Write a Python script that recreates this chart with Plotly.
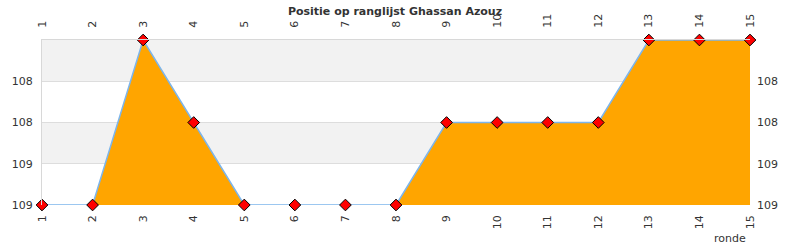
import plotly.graph_objects as go

rounds = list(range(1, 16))
positions = [109, 109, 107, 108, 109, 109, 109, 109, 108, 108, 108, 108, 107, 107, 107]
ytick_vals = [107, 107.5, 108, 108.5, 109]
ytick_text = ["", "108", "108", "109", "109"]
title = "Positie op ranglijst Ghassan Azouz"
baseline_value = 109

font = "DejaVu Sans"
fig = go.Figure()

# bands
bands = [(107, 107.5), (108, 108.5)]
for y0, y1 in bands:
    fig.add_shape(type="rect", xref="paper", yref="y", x0=0, x1=1, y0=y0, y1=y1,
                  fillcolor="#f2f2f2", line_width=0, layer="below")

fig.add_trace(go.Scatter(x=rounds, y=[baseline_value] * len(rounds), mode="lines",
                         line=dict(width=0, color="rgba(0,0,0,0)"), hoverinfo="skip",
                         showlegend=False))
fig.add_trace(go.Scatter(x=rounds, y=positions, mode="lines+markers", fill="tonexty",
                         fillcolor="#FFA500", cliponaxis=False,
                         line=dict(color="#7cb5ec", width=1.5),
                         marker=dict(symbol="diamond", size=9, color="#ff0000",
                                     line=dict(color="#000000", width=1)),
                         showlegend=False))
fig.add_trace(go.Scatter(x=rounds, y=positions, xaxis="x2", yaxis="y2", mode="markers",
                         marker=dict(opacity=0), hoverinfo="skip", showlegend=False))

axis_font = dict(family=font, size=11, color="#333333")
fig.update_layout(
    width=790, height=250,
    margin=dict(l=40, r=40, t=40, b=45),
    paper_bgcolor="white", plot_bgcolor="white",
    title=dict(text="<b>" + title + "</b>", x=0.5, xanchor="center", y=0.97, yanchor="top",
               font=dict(family=font, size=11, color="#333333")),
    xaxis=dict(range=[1, 15], tickvals=rounds, tickangle=-90, tickfont=axis_font,
               showgrid=False, zeroline=False, showline=False, ticks="",
               ticklabelstandoff=7),
    xaxis2=dict(range=[1, 15], tickvals=rounds, tickangle=-90, tickfont=axis_font,
                overlaying="x", side="top", showgrid=False, zeroline=False,
                showline=True, linecolor="#d8d8d8", ticks="", ticklabelstandoff=9),
    yaxis=dict(range=[109, 107], tickvals=ytick_vals, ticktext=ytick_text, tickfont=axis_font,
               showgrid=True, gridcolor="#dddddd", zeroline=False, showline=True,
               linecolor="#d8d8d8", ticks="", ticklabelstandoff=6),
    yaxis2=dict(range=[109, 107], tickvals=ytick_vals, ticktext=ytick_text, tickfont=axis_font,
                overlaying="y", side="right", showgrid=False, zeroline=False, ticks="",
                ticklabelstandoff=6),
    annotations=[dict(text="ronde", xref="paper", yref="paper", x=1, y=0, xanchor="right",
                      yanchor="top", yshift=-25, xshift=-2, showarrow=False,
                      font=dict(family=font, size=11, color="#333333"))],
)

fig.write_html("out.html")
